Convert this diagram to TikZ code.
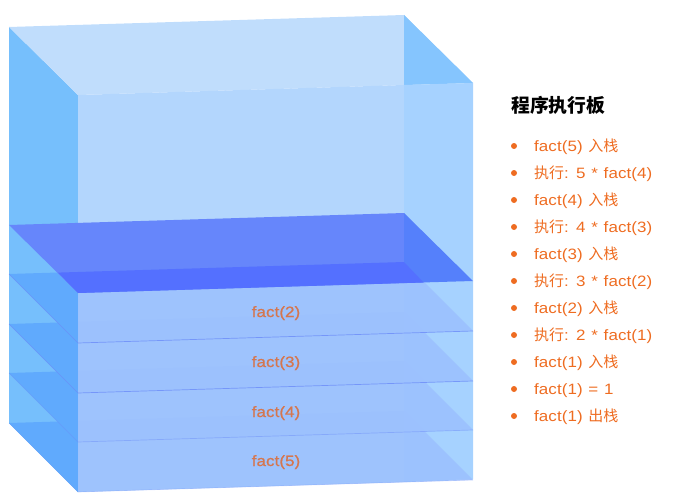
\documentclass[tikz,border=0pt]{standalone}
\usepackage{fontspec}
\setmainfont[FakeStretch=1.13, LetterSpace=.5, WordSpace=1.2]{Liberation Sans}
\newfontfamily\cjk{Noto Sans CJK SC}
\newfontfamily\heavy[FakeStretch=1.13, LetterSpace=.5, FakeBold=1]{Liberation Sans}
\newcommand{\enter}[1]{fact(#1) {\cjk 入栈}}
\newcommand{\runs}[2]{{\cjk 执行}: #1 * fact(#2)}

\begin{document}
\begin{tikzpicture}[x=1pt, y=-1pt]
  \definecolor{leftface}{HTML}{76BFFC} \definecolor{topface}{HTML}{C0DDFC} \definecolor{sideface}{HTML}{85C5FE}
  \definecolor{frontface}{HTML}{B3D6FD} \definecolor{frontside}{HTML}{A6D2FF}
  \definecolor{layer}{HTML}{9CC1FE} \definecolor{layerleft}{HTML}{60AAFD} \definecolor{layerline}{HTML}{6C8CF8}
  \definecolor{stacktop}{HTML}{6686FB} \definecolor{stackside}{HTML}{5580FB} \definecolor{stackband}{HTML}{5470FF}
  \definecolor{orangetxt}{HTML}{EE6C21} \definecolor{labeltxt}{HTML}{D5764E}
  \tikzstyle{label}=[text=labeltxt, anchor=base, inner sep=0pt, font=\heavy\fontsize{15}{18}\selectfont]
  \tikzstyle{item}=[anchor=base west, text=orangetxt, inner sep=0pt, font=\fontsize{15}{18}\selectfont]
  \tikzstyle{dot}=[circle, fill=orangetxt, inner sep=0pt, minimum size=6pt]
  \useasboundingbox (0,0) rectangle (678,503);
  % walls of the box
  \fill[leftface] (9,27) -- (78,95) -- (78,492) -- (9,423) -- cycle;
  \fill[topface] (9,27) -- (404,15) -- (473,83) -- (78,95) -- cycle;
  \fill[sideface] (404,15) -- (473,83) -- (404,85) -- cycle;
  \fill[frontface] (78,95) -- (404,85) -- (404,482) -- (78,492) -- cycle;
  \fill[frontside] (404,85) -- (473,83) -- (473,479) -- (404,482) -- cycle;
  % stack layers
  \foreach \y in {274, 324, 373, 423} {
    \fill[layerleft] (9,\y) -- (78,\y-2.1) -- (78,\y+69) -- cycle;
    \fill[layer, fill opacity=.9] (78,\y-2.1) -- (404,\y-12) -- (473,\y+57) -- (78,\y+69) -- cycle;
  }
  \foreach \y/\o in {274/.8, 324/.8, 373/.45, 423/.3} {
    \draw[layerline, line width=.7pt, opacity=\o] (9,\y) -- (78,\y+69) -- (473,\y+57);
  }
  % top of the stack
  \fill[stacktop] (9,225) -- (404,213) -- (404,283) -- (78,293) -- cycle;
  \fill[stackside] (404,213) -- (473,281) -- (404,283) -- cycle;
  \fill[stackband] (58,272.6) -- (404,262) -- (423.5,282.5) -- (78,293) -- cycle;
  \foreach \n/\y in {2/317, 3/367, 4/417, 5/466} {
    \node[label] (fact\n) at (276,\y) {fact(\n)};
  }
  \node[anchor=west, inner sep=0pt, font=\fontsize{18.8}{22}\selectfont] (title) at (511,105) {\cjk\bfseries 程序执行板};
  \foreach \i/\txt in {0/{\enter{5}}, 1/{\runs{5}{4}}, 2/{\enter{4}}, 3/{\runs{4}{3}}, 4/{\enter{3}},
      5/{\runs{3}{2}}, 6/{\enter{2}}, 7/{\runs{2}{1}}, 8/{\enter{1}}, 9/{fact(1) = 1}, 10/{fact(1) {\cjk 出栈}}} {
    \node[dot] (dot\i) at (514,146 + 27*\i) {};
    \node[item] (item\i) at (534,151.5 + 27*\i) {\txt};
  }
\end{tikzpicture}
\end{document}
